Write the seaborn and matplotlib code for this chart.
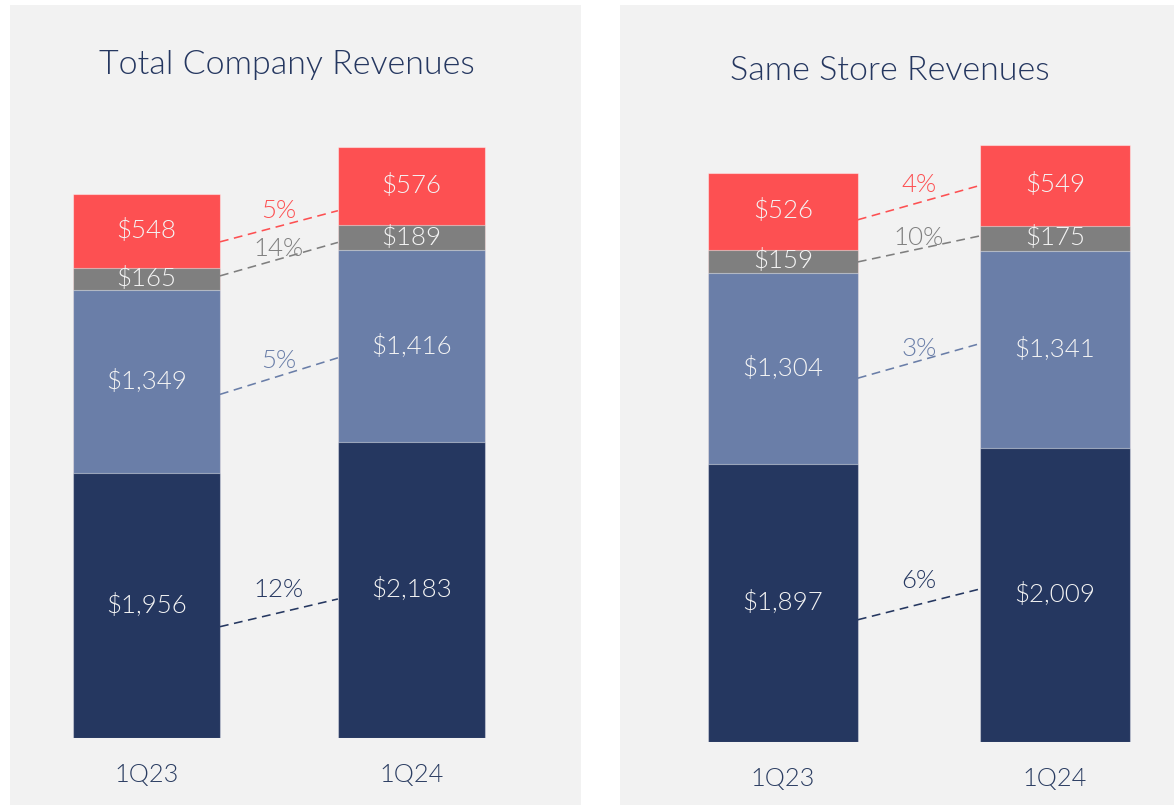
import numpy as np
import pandas as pd
import matplotlib
matplotlib.use("Agg")
import matplotlib.pyplot as plt
import seaborn as sns
from matplotlib.patches import Rectangle

# ---------------- data ----------------
periods = ["1Q23", "1Q24"]

total_title = "Total Company Revenues"
total_seg1 = [1956, 2183]   # navy (bottom)
total_seg2 = [1349, 1416]   # slate blue
total_seg3 = [165, 189]     # gray
total_seg4 = [548, 576]     # red (top)
total_growth = ["12%", "5%", "14%", "5%"]

same_title = "Same Store Revenues"
same_seg1 = [1897, 2009]
same_seg2 = [1304, 1341]
same_seg3 = [159, 175]
same_seg4 = [526, 549]
same_growth = ["6%", "3%", "10%", "4%"]

# ---------------- style ----------------
colors = ["#253760", "#6A7EA8", "#7F7F7F", "#FD5052"]
panel_bg = "#F2F2F2"
W, H = 1174, 805
FW = 300

sns.set_style("white")
plt.rcParams["font.family"] = ["Lato", "DejaVu Sans"]
plt.rcParams["font.weight"] = FW

fig = plt.figure(figsize=(W / 100, H / 100), dpi=100)
fig.patch.set_facecolor("white")


def px_rect(x0, y0, x1, y1):
    """pixel box (top-left origin) -> figure fraction [l, b, w, h]"""
    return [x0 / W, (H - y1) / H, (x1 - x0) / W, (y1 - y0) / H]


panels = [
    dict(title=total_title, segs=[total_seg1, total_seg2, total_seg3, total_seg4],
         growth=total_growth, panel=(10, 5, 581, 805), axbox=(10, 120, 581, 738),
         xlim=(-0.515, 1.640), ylim=4561, width=0.555, title_xy=(287, 65),
         frac_l=[0.42, 0.43, 0.64, 0.35], frac_r=[0.47, 0.44, 0.31, 0.18],
         lab_off=[23, 15, 10, 15]),
    dict(title=same_title, segs=[same_seg1, same_seg2, same_seg3, same_seg4],
         growth=same_growth, panel=(620, 5, 1174, 805), axbox=(620, 120, 1174, 742),
         xlim=(-0.599, 1.4375), ylim=4246, width=0.551, title_xy=(890, 71),
         frac_l=[0.44, 0.45, 0.48, 0.39], frac_r=[0.52, 0.53, 0.60, 0.50],
         lab_off=[23, 12, 11, 18]),
]

for p in panels:
    px0, py0, px1, py1 = p["panel"]
    l, b, w, h = px_rect(px0, py0, px1, py1)
    fig.add_artist(Rectangle((l, b), w, h, transform=fig.transFigure,
                             facecolor=panel_bg, edgecolor="none", zorder=-5))
    ax = fig.add_axes(px_rect(*p["axbox"]))
    ax.set_facecolor("none")

    segs = np.array(p["segs"], dtype=float)
    cum = np.cumsum(segs, axis=0)
    bottoms = cum - segs

    # stacked bars: draw cumulative totals from the top layer down
    for i in range(3, -1, -1):
        df = pd.DataFrame({"period": periods, "value": cum[i]})
        sns.barplot(data=df, x="period", y="value", order=periods, color=colors[i],
                    saturation=1, width=p["width"], ax=ax,
                    edgecolor=(1, 1, 1, 0.45), linewidth=0.8, zorder=2)

    # segment value labels
    for i in range(4):
        for j in range(2):
            ax.text(j, bottoms[i, j] + segs[i, j] / 2, f"${int(segs[i, j]):,}",
                    ha="center", va="center", color="#F4F4F4", fontsize=18.6,
                    fontweight=FW, zorder=5)

    # dashed growth connectors
    hw = p["width"] / 2
    for i in range(4):
        yl = bottoms[i, 0] + p["frac_l"][i] * segs[i, 0]
        yr = bottoms[i, 1] + p["frac_r"][i] * segs[i, 1]
        ax.plot([0 + hw, 1 - hw], [yl, yr], ls=(0, (5.5, 3.5)), color=colors[i],
                lw=1.15, zorder=3)
        ax.annotate(p["growth"][i], xy=(0.5, (yl + yr) / 2), xytext=(0, p["lab_off"][i] * 0.72),
                    textcoords="offset points", ha="center", va="center",
                    color=colors[i], fontsize=18.6, fontweight=FW, zorder=4)

    ax.set_xlim(*p["xlim"])
    ax.set_ylim(0, p["ylim"])
    ax.set_xlabel("")
    ax.set_ylabel("")
    ax.set_yticks([])
    ax.tick_params(axis="x", length=0, pad=18, labelsize=18.3, labelcolor="#2B3D62")
    for lab in ax.get_xticklabels():
        lab.set_fontweight(FW)
    sns.despine(ax=ax, left=True, bottom=True)

    tx, ty = p["title_xy"]
    fig.text(tx / W, 1 - ty / H, p["title"], ha="center", va="center",
             fontsize=24.5, color="#253760", fontweight=FW)

fig.savefig("out.png", dpi=100, facecolor="white")
